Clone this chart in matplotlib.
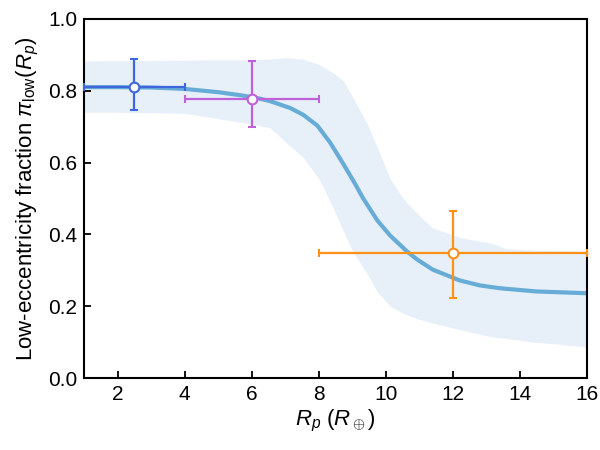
import matplotlib
matplotlib.use("Agg")
import matplotlib.pyplot as plt
import numpy as np

plt.rcParams["font.family"] = ["Liberation Sans", "DejaVu Sans"]
plt.rcParams["mathtext.fontset"] = "custom"
plt.rcParams["mathtext.rm"] = "Liberation Sans"
plt.rcParams["mathtext.it"] = "Liberation Sans:italic"

# posterior median curve
curve_x = [1, 2, 3, 4, 5, 5.7, 6.2, 6.55, 7.15, 7.54, 7.96, 8.34, 8.73, 9.03, 9.33,
           9.75, 10.13, 10.64, 10.94, 11.4, 12.2, 12.8, 13.4, 14.5, 16]
curve_y = [0.810, 0.810, 0.809, 0.805, 0.796, 0.787, 0.779, 0.771, 0.752, 0.733, 0.703, 0.656,
           0.597, 0.550, 0.500, 0.439, 0.397, 0.352, 0.330, 0.302, 0.272, 0.258, 0.250, 0.241, 0.236]

# credible band
band_x = [1, 2, 3, 4, 4.8, 5.7, 6.55, 7.06, 7.54, 8.04, 8.43, 8.73, 9.03, 9.45, 9.75, 10.13,
          10.52, 10.94, 11.4, 12.2, 13.2, 13.6, 14.4, 15.2, 16]
band_hi = [0.883, 0.884, 0.884, 0.885, 0.886, 0.886, 0.888, 0.892, 0.888, 0.872, 0.850, 0.828,
           0.780, 0.708, 0.642, 0.555, 0.500, 0.458, 0.418, 0.392, 0.374, 0.360, 0.356, 0.355, 0.354]
band_lo = [0.740, 0.740, 0.739, 0.737, 0.725, 0.712, 0.697, 0.653, 0.614, 0.550, 0.475, 0.410,
           0.350, 0.290, 0.240, 0.200, 0.180, 0.165, 0.153, 0.135, 0.114, 0.110, 0.100, 0.094, 0.086]

# binned estimates
pt_x = [2.5, 6, 12]
pt_y = [0.810, 0.777, 0.347]
pt_ylo = [0.745, 0.700, 0.222]
pt_yhi = [0.887, 0.882, 0.465]
pt_xlo = [1, 4, 8]
pt_xhi = [4, 8, 16]
pt_colors = ["#3f66dc", "#c061d9", "#ff9119"]

fig = plt.figure(figsize=(6, 4.5), dpi=100)
ax = fig.add_axes([0.14, 0.16, 0.838, 0.798])

ax.fill_between(band_x, band_lo, band_hi, color="#e7f0f8", lw=0)
ax.plot(curve_x, curve_y, color="#67acd6", lw=3, solid_capstyle="butt", zorder=2)

for i in range(len(pt_x)):
    yerr = [[pt_y[i] - pt_ylo[i]], [pt_yhi[i] - pt_y[i]]]
    xerr = [[pt_x[i] - pt_xlo[i]], [pt_xhi[i] - pt_x[i]]]
    ax.errorbar(pt_x[i], pt_y[i], yerr=yerr, xerr=xerr, fmt="o", color=pt_colors[i],
                mfc="white", mec=pt_colors[i], mew=1.5, ms=7, lw=1.6,
                capsize=3, capthick=1.6, zorder=3, clip_on=False)

ax.set_xlim(1, 16)
ax.set_ylim(0, 1.0)
ax.set_xticks([2, 4, 6, 8, 10, 12, 14, 16])
ax.set_yticks([0.0, 0.2, 0.4, 0.6, 0.8, 1.0])
ax.tick_params(direction="in", length=5, width=1.3, labelsize=15, pad=5)
for s in ax.spines.values():
    s.set_linewidth(1.5)
ax.set_xlabel(r"$R_p$ ($R_\oplus$)", fontsize=16, labelpad=3)
ax.set_ylabel(r"Low-eccentricity fraction $\pi_{\rm low}(R_p)$", fontsize=16, labelpad=5)

fig.savefig("out.png", dpi=100)
